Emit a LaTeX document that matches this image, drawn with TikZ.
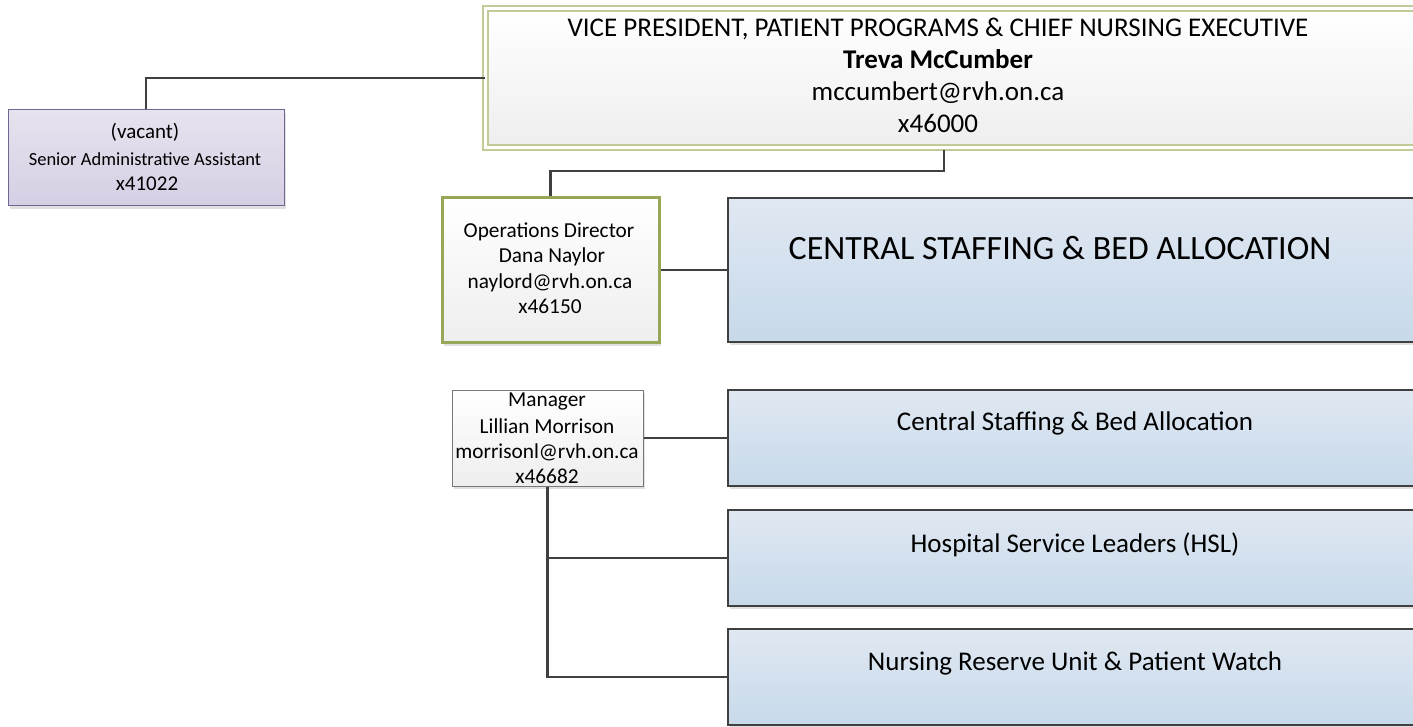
\documentclass[tikz,border=0pt]{standalone}
\usepackage{fontspec}
\setmainfont{Carlito}
\usetikzlibrary{shadows}
\definecolor{lineC}{RGB}{64,64,64}
\definecolor{blueT}{RGB}{224,232,242}
\definecolor{blueB}{RGB}{199,217,234}
\definecolor{lavT}{RGB}{232,226,238}
\definecolor{lavB}{RGB}{214,206,228}
\definecolor{lavD}{RGB}{112,104,144}
\definecolor{greenD}{RGB}{150,168,88}
\definecolor{oliveL}{RGB}{194,202,152}
\definecolor{greyB}{RGB}{238,238,238}
\definecolor{greyD}{RGB}{120,120,120}
\tikzset{
  conn/.style={draw=lineC, line width=2.4pt},
  shad/.style={drop shadow={shadow xshift=2pt, shadow yshift=-3pt, fill=black!12, opacity=1}},
  bluebox/.style={rectangle, draw=lineC, line width=2.4pt, top color=blueT, bottom color=blueB, shad, inner sep=0pt},
  greybox/.style={rectangle, top color=white, bottom color=greyB, shad, inner sep=0pt},
  txt/.style={anchor=base, inner sep=0pt, text=black},
  vpf/.style={txt, font=\fontsize{27}{32}\selectfont},
  pf/.style={txt, font=\fontsize{21.3}{25}\selectfont},
  bf/.style={txt, font=\fontsize{27}{32}\selectfont},
}
\begin{document}
\begin{tikzpicture}[x=1pt,y=-1pt]
\clip (0,0) rectangle (1413,727);
\fill[white] (0,0) rectangle (1413,727);
% VP box
\node[greybox, draw=oliveL, line width=1.5pt, double=white, double distance=3.5pt,
      minimum width=954.5pt, minimum height=139pt] (vp) at (962.75,78) {};
\node[vpf] (vp1) at (938,37) {VICE PRESIDENT, PATIENT PROGRAMS \& CHIEF NURSING EXECUTIVE};
\node[vpf] (vp2) at (938,69) {\textbf{Treva McCumber}};
\node[vpf] (vp3) at (938,101) {mccumbert@rvh.on.ca};
\node[vpf] (vp4) at (938,133) {x46000};
% Assistant
\node[rectangle, draw=lavD, line width=1pt, top color=lavT, bottom color=lavB, shad, inner sep=0pt,
      minimum width=276pt, minimum height=96pt] (asst) at (146,158) {};
\node[txt, font=\fontsize{21}{25}\selectfont] (as1) at (145,139) {(vacant)};
\node[txt, font=\fontsize{18.5}{22}\selectfont] (as2) at (145,166) {Senior Administrative Assistant};
\node[txt, font=\fontsize{21}{25}\selectfont] (as3) at (147,191) {x41022};
% Operations director
\node[greybox, draw=greenD, line width=3pt, minimum width=217pt, minimum height=145pt] (ops) at (550.5,270) {};
\node[pf] (op1) at (549,238) {Operations Director};
\node[pf] (op2) at (552,263) {Dana Naylor};
\node[pf] (op3) at (550,288) {naylord@rvh.on.ca};
\node[pf] (op4) at (550,313) {x46150};
% Manager
\node[greybox, draw=greyD, line width=1pt, minimum width=191pt, minimum height=96pt] (mgr) at (547.5,438) {};
\node[pf] (mg1) at (547,406) {Manager};
\node[pf] (mg2) at (547,433) {Lillian Morrison};
\node[pf] (mg3) at (547,458) {morrisonl@rvh.on.ca};
\node[pf] (mg4) at (547,483) {x46682};
% Blue boxes
\node[bluebox, minimum width=712pt, minimum height=144pt] (csba) at (1084,270) {};
\node[txt, font=\fontsize{34}{40}\selectfont] (csbaT) at (1060,260) {CENTRAL STAFFING \& BED ALLOCATION};
\node[bluebox, minimum width=712pt, minimum height=96pt] (b2) at (1084,438) {};
\node[bf] (b2T) at (1075,430) {Central Staffing \& Bed Allocation};
\node[bluebox, minimum width=712pt, minimum height=96pt] (b3) at (1084,558) {};
\node[bf] (b3T) at (1075,552) {Hospital Service Leaders (HSL)};
\node[bluebox, minimum width=712pt, minimum height=96pt] (b4) at (1084,677) {};
\node[bf] (b4T) at (1075,670) {Nursing Reserve Unit \& Patient Watch};
% connectors
\coordinate (vpdrop) at (944,150);
\draw[conn] (asst.north) |- (vp.west);
\draw[conn] (ops.north) -- ++(0,-25) -| (vpdrop);
\draw[conn] (ops.east) -- (csba.west);
\draw[conn] (mgr.east) -- (b2.west);
\draw[conn] (mgr.south) |- (b3.west);
\draw[conn] (mgr.south) |- (b4.west);
\end{tikzpicture}
\end{document}
